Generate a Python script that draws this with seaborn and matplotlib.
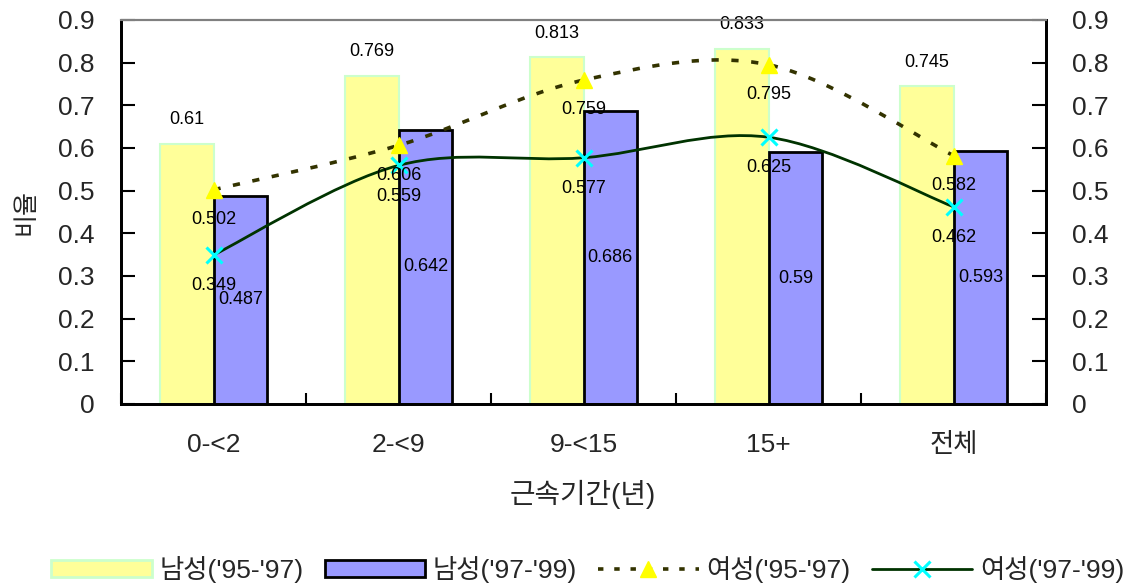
import numpy as np
import pandas as pd
import matplotlib
matplotlib.use("Agg")
import matplotlib.pyplot as plt
from matplotlib.path import Path
from matplotlib.patches import PathPatch, Patch
from matplotlib.lines import Line2D
import seaborn as sns

# ---- data ----
categories = ["0-<2", "2-<9", "9-<15", "15+", "전체"]
male_95_97 = [0.61, 0.769, 0.813, 0.833, 0.745]
male_97_99 = [0.487, 0.642, 0.686, 0.59, 0.593]
female_95_97 = [0.502, 0.606, 0.759, 0.795, 0.582]
female_97_99 = [0.349, 0.559, 0.577, 0.625, 0.462]
series_names = ["남성('95-'97)", "남성('97-'99)", "여성('95-'97)", "여성('97-'99)"]
y_ticks = [0, 0.1, 0.2, 0.3, 0.4, 0.5, 0.6, 0.7, 0.8, 0.9]
y_tick_labels = ["0", "0.1", "0.2", "0.3", "0.4", "0.5", "0.6", "0.7", "0.8", "0.9"]

sns.set_theme(style="white")
plt.rcParams["font.family"] = ["Liberation Sans", "Noto Sans CJK KR", "DejaVu Sans"]

YELLOW, YELLOW_EDGE = "#FFFF99", "#CCFFCC"
BLUE = "#9999FF"
OLIVE = "#333300"
GREEN = "#003300"

fig = plt.figure(figsize=(11.26, 5.87), dpi=100)
ax = fig.add_axes([0.1075, 0.312, 0.8215, 0.654])

bars = pd.DataFrame({
    "구간": categories * 2,
    "series": [series_names[0]] * 5 + [series_names[1]] * 5,
    "value": male_95_97 + male_97_99,
})
sns.barplot(data=bars, x="구간", y="value", hue="series", order=categories,
            hue_order=series_names[:2], palette=[YELLOW, BLUE], width=0.58,
            errorbar=None, legend=False, ax=ax, saturation=1)

for patch in ax.containers[0]:
    patch.set_edgecolor(YELLOW_EDGE)
    patch.set_linewidth(1.5)
for patch in ax.containers[1]:
    patch.set_edgecolor("black")
    patch.set_linewidth(2)

xs = np.arange(len(categories))


def smooth_path(x, y, t=1 / 6):
    """Cubic Bezier path through the points (Catmull-Rom style control points)."""
    pts = np.column_stack([x, y]).astype(float)
    n = len(pts)
    verts = [pts[0]]
    codes = [Path.MOVETO]
    for i in range(n - 1):
        p_prev = pts[i - 1] if i > 0 else pts[i]
        p_next2 = pts[i + 2] if i + 2 < n else pts[i + 1]
        c1 = pts[i] + (pts[i + 1] - p_prev) * t
        c2 = pts[i + 1] - (p_next2 - pts[i]) * t
        verts += [c1, c2, pts[i + 1]]
        codes += [Path.CURVE4] * 3
    return Path(verts, codes)


ax.add_patch(PathPatch(smooth_path(xs, female_95_97), fill=False, edgecolor=OLIVE,
                       linewidth=2.6, linestyle=(0, (2, 3.5)), zorder=4))
ax.add_patch(PathPatch(smooth_path(xs, female_97_99), fill=False, edgecolor=GREEN,
                       linewidth=2, zorder=4))
ax.plot(xs, female_95_97, linestyle="none", marker="^", markersize=12,
        color="#FFFF00", markeredgecolor="#FFFF00", zorder=5)
ax.plot(xs, female_97_99, linestyle="none", marker="x", markersize=11,
        markeredgewidth=2.2, color="#00FFFF", zorder=5)

# value labels
lab_kw = dict(fontsize=13, ha="center", va="center", color="black", zorder=6)
for i in range(len(categories)):
    ax.text(xs[i] - 0.145, male_95_97[i] + 0.056, f"{male_95_97[i]:g}", **lab_kw)
    ax.text(xs[i] + 0.145, male_97_99[i] / 2, f"{male_97_99[i]:g}", **lab_kw)
    ax.text(xs[i], female_95_97[i] - 0.07, f"{female_95_97[i]:g}", **lab_kw)
    ax.text(xs[i], female_97_99[i] - 0.072, f"{female_97_99[i]:g}", **lab_kw)

ax.set_xlim(-0.5, len(categories) - 0.5)
ax.set_ylim(0, 0.9)
ax.set_yticks(y_ticks)
ax.set_yticklabels(y_tick_labels)
ax.set_xticks(xs)
ax.set_xticklabels(categories)
ax.set_xticks(np.arange(len(categories) + 1) - 0.5, minor=True)
ax.tick_params(axis="x", which="major", length=0, pad=21, labelsize=19)
ax.tick_params(axis="x", which="minor", length=8, width=1.5, direction="in",
               color="black", bottom=True)
ax.tick_params(axis="y", which="major", length=10, width=1.5, direction="in",
               pad=19, labelsize=19, left=True, color="black")
ax.set_xlabel("근속기간(년)", fontsize=20)
ax.xaxis.set_label_coords(0.4995, -0.198)
ax.set_ylabel("비율", fontsize=18)
ax.yaxis.set_label_coords(-0.09, 0.5)

ax2 = ax.twinx()
ax2.set_ylim(0, 0.9)
ax2.set_yticks(y_ticks)
ax2.set_yticklabels(y_tick_labels)
ax2.tick_params(axis="y", length=10, width=1.5, direction="in", pad=19,
                labelsize=19, right=True, color="black")
ax2.grid(False)
ax.grid(False)

for a in (ax, ax2):
    for side in ("left", "right", "bottom"):
        a.spines[side].set_color("black")
        a.spines[side].set_linewidth(2)
    a.spines["top"].set_color("#808080")
    a.spines["top"].set_linewidth(1.5)

handles = [
    Patch(facecolor=YELLOW, edgecolor=YELLOW_EDGE, linewidth=2),
    Patch(facecolor=BLUE, edgecolor="black", linewidth=2),
    Line2D([], [], color=OLIVE, linewidth=2.6, linestyle=(0, (1.5, 3)),
           marker="^", markersize=12, markerfacecolor="#FFFF00", markeredgecolor="#FFFF00"),
    Line2D([], [], color=GREEN, linewidth=2, marker="x", markersize=11,
           markeredgewidth=2.2, markeredgecolor="#00FFFF"),
]
fig.legend(handles, series_names, loc="center", bbox_to_anchor=(0.522, 0.03),
           ncol=4, frameon=False, fontsize=19, handlelength=3.8, handleheight=0.65,
           handletextpad=0.3, columnspacing=0.8, numpoints=1)

fig.savefig("out.png", dpi=100)
